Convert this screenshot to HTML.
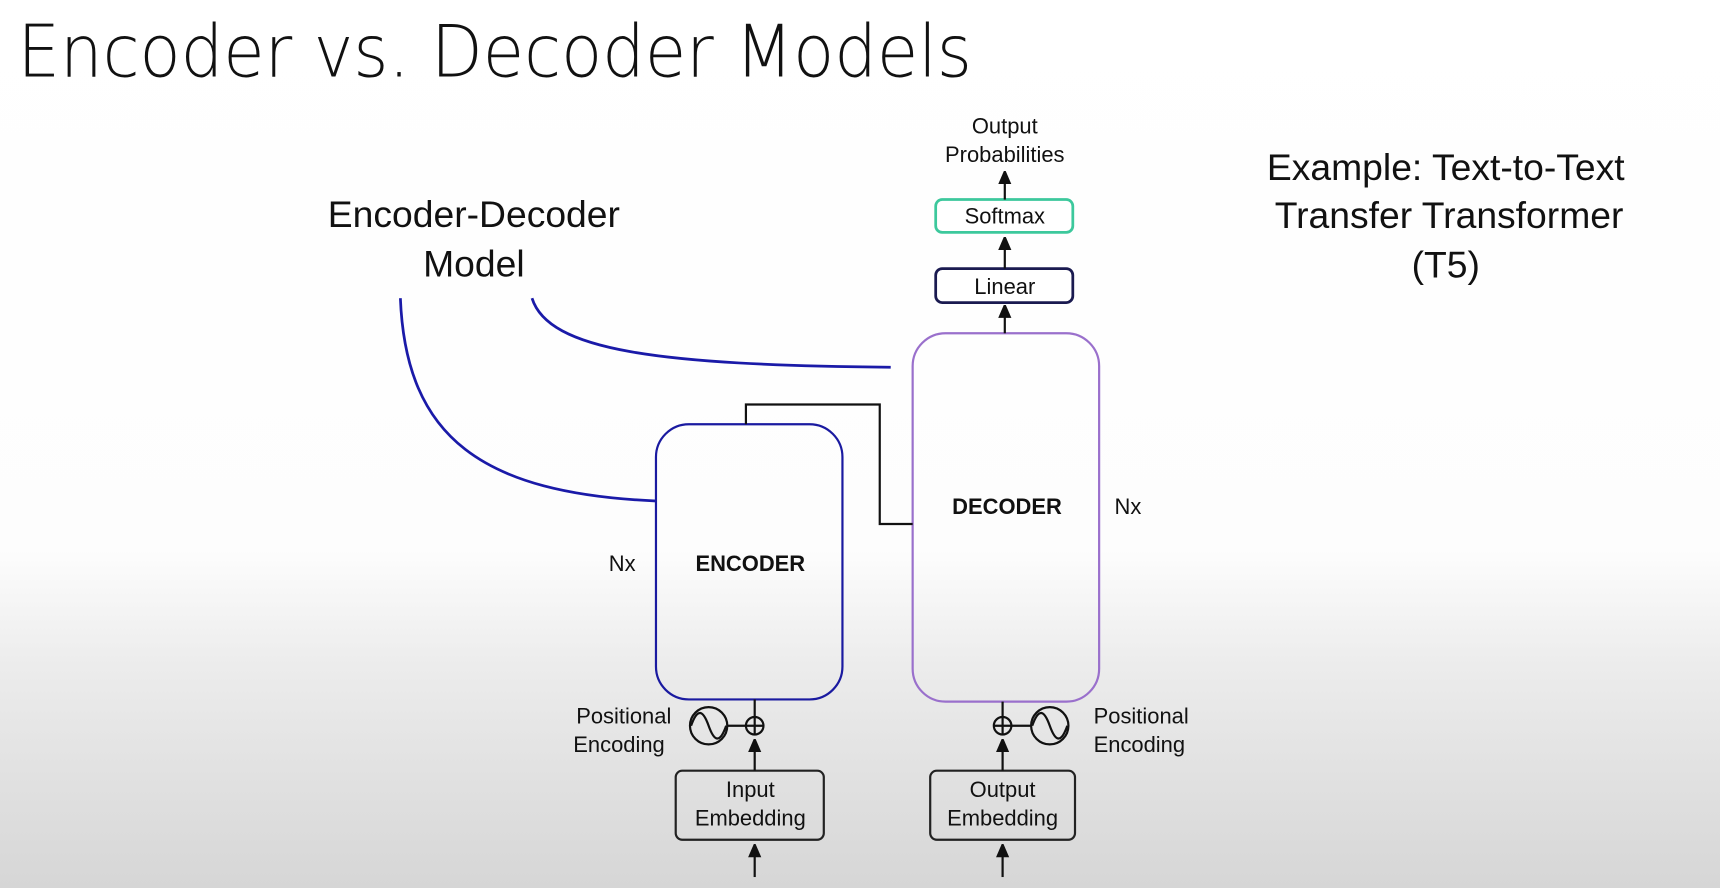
<!DOCTYPE html>
<html><head><meta charset="utf-8"><style>
html,body{margin:0;padding:0;width:1720px;height:888px;overflow:hidden;background:#fff}
svg{display:block}
text{font-family:"Liberation Sans",sans-serif;fill:#111}
</style></head><body>
<svg width="1720" height="888" viewBox="0 0 1568 810" preserveAspectRatio="none" xmlns="http://www.w3.org/2000/svg">
<defs>
<linearGradient id="bg" x1="0" y1="0" x2="0" y2="1">
<stop offset="0" stop-color="#ffffff"/>
<stop offset="0.62" stop-color="#fdfdfd"/>
<stop offset="0.75" stop-color="#ececec"/>
<stop offset="1" stop-color="#d6d6d6"/>
</linearGradient>
<marker id="ah" markerWidth="12" markerHeight="14" refX="6" refY="7" orient="auto" markerUnits="userSpaceOnUse">
<path d="M0,0 L14,6 L0,12 Z" fill="#111" transform="translate(0,1)"/>
</marker>
</defs>
<rect width="1568" height="810" fill="url(#bg)"/>
<rect x="853" y="182" width="125" height="30" rx="6" fill="#fff" stroke="#3cc89c" stroke-width="2.5"/>
<rect x="853" y="245" width="125" height="31" rx="6" fill="#fff" stroke="#1a1a50" stroke-width="2.5"/>
<rect x="832" y="304" width="170" height="336" rx="30" fill="none" stroke="#9a70cc" stroke-width="2"/>
<rect x="598" y="387" width="170" height="251" rx="30" fill="none" stroke="#1a1aa0" stroke-width="2"/>
<rect x="616" y="703" width="135" height="63" rx="6" fill="none" stroke="#222" stroke-width="2"/>
<rect x="848" y="703" width="132" height="63" rx="6" fill="none" stroke="#222" stroke-width="2"/>
<text x="16" y="70" font-size="66" textLength="870" lengthAdjust="spacingAndGlyphs" style="font-family:'DejaVu Sans',sans-serif;font-weight:200">Encoder vs. Decoder Models</text>
<g font-size="34" text-anchor="middle">
<text x="432" y="207">Encoder-Decoder</text>
<text x="432" y="252">Model</text>
<text x="1318" y="164">Example: Text-to-Text</text>
<text x="1321" y="208">Transfer Transformer</text>
<text x="1318" y="253">(T5)</text>
</g>
<g font-size="20" text-anchor="middle">
<text x="916" y="122">Output</text>
<text x="916" y="148">Probabilities</text>
<text x="916" y="204">Softmax</text>
<text x="916" y="268">Linear</text>
<text x="684" y="727">Input</text>
<text x="684" y="753">Embedding</text>
<text x="914" y="727">Output</text>
<text x="914" y="753">Embedding</text>
</g>
<g font-size="20">
<text x="612" y="660" text-anchor="end">Positional</text>
<text x="606" y="686" text-anchor="end">Encoding</text>
<text x="997" y="660">Positional</text>
<text x="997" y="686">Encoding</text>
<text x="555" y="521">Nx</text>
<text x="1016" y="469">Nx</text>
<text x="684" y="521" text-anchor="middle" font-weight="bold">ENCODER</text>
<text x="918" y="469" text-anchor="middle" font-weight="bold">DECODER</text>
</g>
<path d="M365,272 C370,400 440,450 598,457" fill="none" stroke="#1a1aa8" stroke-width="2.5"/>
<path d="M485,272 C500,320 600,333 812,335" fill="none" stroke="#1a1aa8" stroke-width="2.5"/>
<path d="M680,387 V369 H802 V478 H832" fill="none" stroke="#111" stroke-width="2"/>
<g stroke="#111" stroke-width="2" fill="none">
<line x1="916" y1="182" x2="916" y2="162" marker-end="url(#ah)"/>
<line x1="916" y1="245" x2="916" y2="222" marker-end="url(#ah)"/>
<line x1="916" y1="304" x2="916" y2="284" marker-end="url(#ah)"/>
<line x1="688" y1="703" x2="688" y2="680" marker-end="url(#ah)"/>
<line x1="914" y1="703" x2="914" y2="680" marker-end="url(#ah)"/>
<line x1="688" y1="800" x2="688" y2="776" marker-end="url(#ah)"/>
<line x1="914" y1="800" x2="914" y2="776" marker-end="url(#ah)"/>
<line x1="688" y1="638" x2="688" y2="654"/>
<line x1="914" y1="640" x2="914" y2="654"/>
<circle cx="688" cy="662" r="8"/>
<line x1="680" y1="662" x2="696" y2="662"/><line x1="688" y1="654" x2="688" y2="670"/>
<line x1="663" y1="662" x2="680" y2="662"/>
<circle cx="646" cy="662" r="17"/>
<path d="M630,662 C636,645 641,648 646,662 C651,676 656,679 662,662"/>
<circle cx="914" cy="662" r="8"/>
<line x1="906" y1="662" x2="922" y2="662"/><line x1="914" y1="654" x2="914" y2="670"/>
<line x1="922" y1="662" x2="940" y2="662"/>
<circle cx="957" cy="662" r="17"/>
<path d="M941,662 C947,645 952,648 957,662 C962,676 967,679 973,662"/>
</g>
</svg>
</body></html>
